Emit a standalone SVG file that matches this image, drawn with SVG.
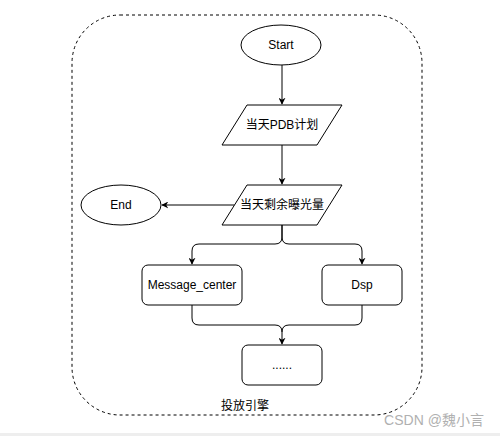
<svg xmlns="http://www.w3.org/2000/svg" width="500" height="436" viewBox="0 0 500 436">
<style>
.shape{fill:#fff;stroke:#000;stroke-width:1}
.edge{fill:none;stroke:#000;stroke-width:1}
.t{font-family:"Liberation Sans","Noto Sans CJK SC",Arial,sans-serif;font-size:12px;fill:#000;text-anchor:middle}
</style>
<defs>
<marker id="arr" viewBox="0 0 10 10" refX="9" refY="5" markerWidth="7" markerHeight="7" markerUnits="userSpaceOnUse" orient="auto">
<path d="M0,0 L10,5 L0,10 L3,5 Z" fill="#000"/>
</marker>
</defs>
<rect width="500" height="436" fill="#fff"/>
<rect x="0" y="433" width="500" height="3" fill="#eeeeee"/>
<g id="container">
<rect x="72" y="15" width="350" height="400" rx="48" ry="48" fill="none" stroke="#000" stroke-width="1" stroke-dasharray="3 3"/>
<text class="t" x="245" y="410">投放引擎</text>
</g>
<g id="connectors">
<path class="edge" d="M282,65 L282,104" marker-end="url(#arr)"/>
<path class="edge" d="M282,145 L282,184" marker-end="url(#arr)"/>
<path class="edge" d="M234.5,205 L162,205" marker-end="url(#arr)"/>
<path class="edge" d="M282,225 L282,237 Q282,244 275,244 L199,244 Q192,244 192,251 L192,264" marker-end="url(#arr)"/>
<path class="edge" d="M282,225 L282,237 Q282,244 289,244 L355,244 Q362,244 362,251 L362,264" marker-end="url(#arr)"/>
<path class="edge" d="M192,305 L192,318 Q192,325 199,325 L275,325 Q282,325 282,332 L282,344" marker-end="url(#arr)"/>
<path class="edge" d="M362,305 L362,318 Q362,325 355,325 L289,325 Q282,325 282,332"/>
</g>
<g id="start">
<ellipse class="shape" cx="281" cy="45" rx="40" ry="20"/>
<text class="t" x="281" y="49">Start</text>
</g>
<g id="pdb">
<polygon class="shape" points="247,105 342,105 317,145 222,145"/>
<text class="t" x="282" y="129">当天PDB计划</text>
</g>
<g id="remain">
<polygon class="shape" points="247,185 342,185 317,225 222,225"/>
<text class="t" x="282" y="209">当天剩余曝光量</text>
</g>
<g id="end">
<ellipse class="shape" cx="121" cy="205" rx="40" ry="20"/>
<text class="t" x="121" y="209">End</text>
</g>
<g id="message_center">
<rect class="shape" x="142" y="265" width="100" height="40" rx="6"/>
<text class="t" x="192" y="289">Message_center</text>
</g>
<g id="dsp">
<rect class="shape" x="322" y="265" width="80" height="40" rx="6"/>
<text class="t" x="362" y="289">Dsp</text>
</g>
<g id="more">
<rect class="shape" x="242" y="345" width="80" height="40" rx="6"/>
<text class="t" x="282" y="369">......</text>
</g>
<text x="434" y="425" font-family="'Liberation Sans','Noto Sans CJK SC',sans-serif" font-size="14" fill="#b0b0b0" text-anchor="middle">CSDN @魏小言</text>
</svg>
